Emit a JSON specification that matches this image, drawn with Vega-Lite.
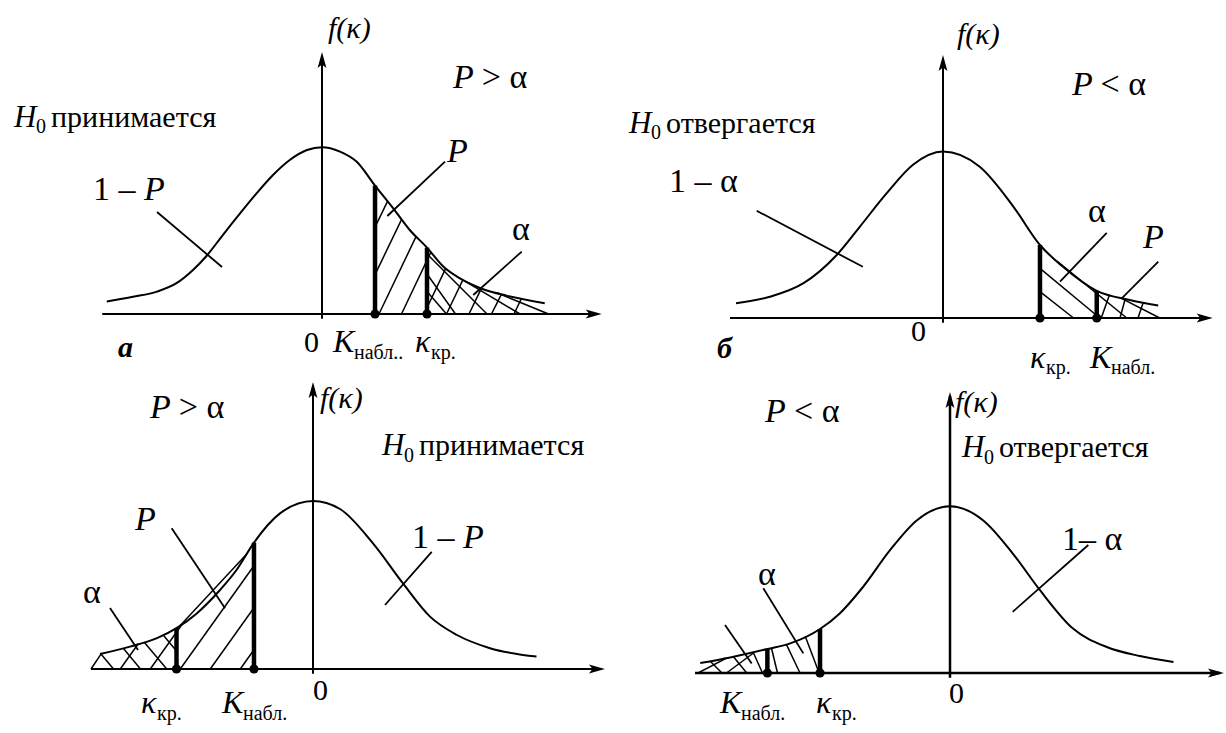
{
"$schema":"https://vega.github.io/schema/vega-lite/v6.json",
"background":"white","padding":0,
"config":{"view":{"stroke":null},"concat":{"spacing":0}},
"data":{"values":[
{"p":"a","kind":"curve","k":-2.87,"f":0.031},{"p":"a","kind":"curve","k":-2.52,"f":0.043},{"p":"a","kind":"curve","k":-2.2,"f":0.056},{"p":"a","kind":"curve","k":-1.94,"f":0.077},{"p":"a","kind":"curve","k":-1.72,"f":0.11},{"p":"a","kind":"curve","k":-1.54,"f":0.145},{"p":"a","kind":"curve","k":-1.32,"f":0.198},{"p":"a","kind":"curve","k":-1.09,"f":0.252},{"p":"a","kind":"curve","k":-0.87,"f":0.302},{"p":"a","kind":"curve","k":-0.65,"f":0.348},{"p":"a","kind":"curve","k":-0.43,"f":0.385},{"p":"a","kind":"curve","k":-0.2,"f":0.41},{"p":"a","kind":"curve","k":0,"f":0.417},{"p":"a","kind":"curve","k":0.24,"f":0.406},{"p":"a","kind":"curve","k":0.46,"f":0.381},{"p":"a","kind":"curve","k":0.707,"f":0.321},{"p":"a","kind":"curve","k":0.95,"f":0.264},{"p":"a","kind":"curve","k":1.17,"f":0.21},{"p":"a","kind":"curve","k":1.4,"f":0.166},{"p":"a","kind":"curve","k":1.62,"f":0.118},{"p":"a","kind":"curve","k":1.84,"f":0.089},{"p":"a","kind":"curve","k":2.15,"f":0.062},{"p":"a","kind":"curve","k":2.46,"f":0.046},{"p":"a","kind":"curve","k":2.97,"f":0.027},
{"p":"a","kind":"axis","k":-2.93,"f":0,"k2":3.68,"f2":0},{"p":"a","kind":"axis","k":0,"f":-0.012,"k2":0,"f2":0.645},
{"p":"a","kind":"ax","k":3.623,"f":0},{"p":"a","kind":"ay","k":0,"f":0.635},
{"p":"a","kind":"thick","k":0.707,"f":0,"k2":0.707,"f2":0.321},{"p":"a","kind":"thick","k":1.4,"f":0,"k2":1.4,"f2":0.166},
{"p":"a","kind":"dot","k":0.707,"f":0},{"p":"a","kind":"dot","k":1.4,"f":0},
{"p":"a","kind":"hatch","k":0.707,"f":0.217,"k2":0.875,"f2":0.282},{"p":"a","kind":"hatch","k":0.707,"f":0.0985,"k2":1.06,"f2":0.236},{"p":"a","kind":"hatch","k":0.76,"f":0,"k2":1.255,"f2":0.194},{"p":"a","kind":"hatch","k":1.06,"f":0,"k2":1.45,"f2":0.154},{"p":"a","kind":"hatch","k":1.36,"f":0,"k2":1.65,"f2":0.114},{"p":"a","kind":"hatch","k":1.66,"f":0,"k2":1.88,"f2":0.086},{"p":"a","kind":"hatch","k":1.96,"f":0,"k2":2.125,"f2":0.064},{"p":"a","kind":"hatch","k":2.26,"f":0,"k2":2.39,"f2":0.0485},{"p":"a","kind":"hatch","k":2.56,"f":0,"k2":2.66,"f2":0.039},
{"p":"a","kind":"hatch","k":1.4,"f":0.056,"k2":1.66,"f2":0},{"p":"a","kind":"hatch","k":1.4,"f":0.1,"k2":1.78,"f2":0},{"p":"a","kind":"hatch","k":1.4,"f":0.15,"k2":2.2,"f2":0},{"p":"a","kind":"hatch","k":1.9,"f":0.083,"k2":2.64,"f2":0},{"p":"a","kind":"hatch","k":2.33,"f":0.053,"k2":3.02,"f2":0},
{"p":"a","kind":"leader","k":-2.2,"f":0.255,"k2":-1.333,"f2":0.1175},{"p":"a","kind":"leader","k":1.64,"f":0.381,"k2":0.871,"f2":0.245},{"p":"a","kind":"leader","k":2.663,"f":0.156,"k2":2.017,"f2":0.0475},
{"p":"a","kind":"text","role":"fk","t":"f(κ)","k":0.08,"f":0.69},
{"p":"a","kind":"text","role":"var","t":"P","k":1.747,"f":0.565},{"p":"a","kind":"text","role":"sym","t":"> α","k":2.13,"f":0.565},
{"p":"a","kind":"text","role":"hvar","t":"H","k":-4.107,"f":0.4675},{"p":"a","kind":"text","role":"hsub","t":"0","k":-3.813,"f":0.452},{"p":"a","kind":"text","role":"hword","t":"принимается","k":-3.613,"f":0.4675},
{"p":"a","kind":"text","role":"sym","t":"1 –","k":-3.053,"f":0.285},{"p":"a","kind":"text","role":"var","t":"P","k":-2.373,"f":0.285},
{"p":"a","kind":"text","role":"var","t":"P","k":1.667,"f":0.38},{"p":"a","kind":"text","role":"sym","t":"α","k":2.533,"f":0.185},
{"p":"a","kind":"text","role":"origin","t":"0","k":-0.24,"f":-0.095},
{"p":"a","kind":"text","role":"axvar","t":"K","k":0.147,"f":-0.095},{"p":"a","kind":"text","role":"axsub","t":"набл..","k":0.427,"f":-0.1125},
{"p":"a","kind":"text","role":"axvar","t":"κ","k":1.24,"f":-0.095},{"p":"a","kind":"text","role":"axsub","t":"кр.","k":1.453,"f":-0.1125},
{"p":"a","kind":"text","role":"tag","t":"а","k":-2.72,"f":-0.1075},

{"p":"b","kind":"curve","k":-2.76,"f":0.037},{"p":"b","kind":"curve","k":-2.31,"f":0.053},{"p":"b","kind":"curve","k":-1.86,"f":0.087},{"p":"b","kind":"curve","k":-1.42,"f":0.157},{"p":"b","kind":"curve","k":-1.11,"f":0.228},{"p":"b","kind":"curve","k":-0.75,"f":0.312},{"p":"b","kind":"curve","k":-0.4,"f":0.383},{"p":"b","kind":"curve","k":0,"f":0.416},{"p":"b","kind":"curve","k":0.49,"f":0.378},{"p":"b","kind":"curve","k":0.94,"f":0.278},{"p":"b","kind":"curve","k":1.293,"f":0.1825},{"p":"b","kind":"curve","k":1.6,"f":0.128},{"p":"b","kind":"curve","k":2.05,"f":0.068},{"p":"b","kind":"curve","k":2.49,"f":0.045},{"p":"b","kind":"curve","k":2.87,"f":0.031},
{"p":"b","kind":"axis","k":-2.84,"f":0,"k2":3.55,"f2":0},{"p":"b","kind":"axis","k":0,"f":-0.012,"k2":0,"f2":0.648},
{"p":"b","kind":"ax","k":3.489,"f":0},{"p":"b","kind":"ay","k":0,"f":0.6375},
{"p":"b","kind":"thick","k":1.293,"f":0,"k2":1.293,"f2":0.1825},{"p":"b","kind":"thick","k":2.05,"f":0,"k2":2.05,"f2":0.068},
{"p":"b","kind":"dot","k":1.293,"f":0},{"p":"b","kind":"dot","k":2.05,"f":0},
{"p":"b","kind":"hatch","k":1.293,"f":0.124,"k2":2.09,"f2":0},{"p":"b","kind":"hatch","k":1.293,"f":0.066,"k2":1.74,"f2":0},{"p":"b","kind":"hatch","k":1.52,"f":0.142,"k2":2.45,"f2":0},{"p":"b","kind":"hatch","k":2.36,"f":0.051,"k2":2.89,"f2":0},
{"p":"b","kind":"hatch","k":2.11,"f":0,"k2":2.22,"f2":0.058},{"p":"b","kind":"hatch","k":2.36,"f":0,"k2":2.43,"f2":0.048},{"p":"b","kind":"hatch","k":2.6,"f":0,"k2":2.67,"f2":0.039},
{"p":"b","kind":"leader","k":-2.484,"f":0.268,"k2":-1.069,"f2":0.128},{"p":"b","kind":"leader","k":2.183,"f":0.213,"k2":1.56,"f2":0.091},{"p":"b","kind":"leader","k":2.871,"f":0.141,"k2":2.383,"f2":0.049},
{"p":"b","kind":"text","role":"fk","t":"f(κ)","k":0.187,"f":0.685},
{"p":"b","kind":"text","role":"var","t":"P","k":1.72,"f":0.5575},{"p":"b","kind":"text","role":"sym","t":"< α","k":2.1,"f":0.5575},
{"p":"b","kind":"text","role":"hvar","t":"H","k":-4.187,"f":0.4625},{"p":"b","kind":"text","role":"hsub","t":"0","k":-3.893,"f":0.447},{"p":"b","kind":"text","role":"hword","t":"отвергается","k":-3.693,"f":0.4625},
{"p":"b","kind":"text","role":"sym","t":"1 – α","k":-3.653,"f":0.315},
{"p":"b","kind":"text","role":"sym","t":"α","k":1.933,"f":0.24},{"p":"b","kind":"text","role":"var","t":"P","k":2.667,"f":0.175},
{"p":"b","kind":"text","role":"origin","t":"0","k":-0.427,"f":-0.0575},
{"p":"b","kind":"text","role":"axvar","t":"κ","k":1.16,"f":-0.125},{"p":"b","kind":"text","role":"axsub","t":"кр.","k":1.373,"f":-0.14},
{"p":"b","kind":"text","role":"axvar","t":"K","k":1.96,"f":-0.125},{"p":"b","kind":"text","role":"axsub","t":"набл.","k":2.24,"f":-0.14},
{"p":"b","kind":"text","role":"tag","t":"б","k":-3.013,"f":-0.1},

{"p":"c","kind":"curve","k":-2.84,"f":0.0375},{"p":"c","kind":"curve","k":-2.44,"f":0.056},{"p":"c","kind":"curve","k":-2.08,"f":0.077},{"p":"c","kind":"curve","k":-1.82,"f":0.102},{"p":"c","kind":"curve","k":-1.55,"f":0.139},{"p":"c","kind":"curve","k":-1.24,"f":0.1975},{"p":"c","kind":"curve","k":-1.02,"f":0.2475},{"p":"c","kind":"curve","k":-0.787,"f":0.316},{"p":"c","kind":"curve","k":-0.44,"f":0.389},{"p":"c","kind":"curve","k":0,"f":0.42},{"p":"c","kind":"curve","k":0.36,"f":0.4},{"p":"c","kind":"curve","k":0.8,"f":0.314},{"p":"c","kind":"curve","k":1.2,"f":0.214},{"p":"c","kind":"curve","k":1.56,"f":0.131},{"p":"c","kind":"curve","k":1.92,"f":0.085},{"p":"c","kind":"curve","k":2.36,"f":0.052},{"p":"c","kind":"curve","k":2.98,"f":0.031},
{"p":"c","kind":"axis","k":-2.96,"f":0,"k2":3.84,"f2":0},{"p":"c","kind":"axis","k":0,"f":-0.012,"k2":0,"f2":0.7075},
{"p":"c","kind":"ax","k":3.786,"f":0},{"p":"c","kind":"ay","k":0,"f":0.6975},
{"p":"c","kind":"thick","k":-0.787,"f":0,"k2":-0.787,"f2":0.316},{"p":"c","kind":"thick","k":-1.82,"f":0,"k2":-1.82,"f2":0.102},
{"p":"c","kind":"dot","k":-0.787,"f":0},{"p":"c","kind":"dot","k":-1.82,"f":0},
{"p":"c","kind":"hatch","k":-0.97,"f":0,"k2":-0.787,"f2":0.048},{"p":"c","kind":"hatch","k":-1.37,"f":0,"k2":-0.787,"f2":0.153},{"p":"c","kind":"hatch","k":-1.77,"f":0,"k2":-0.787,"f2":0.258},{"p":"c","kind":"hatch","k":-1.77,"f":0.109,"k2":-0.88,"f2":0.288},{"p":"c","kind":"hatch","k":-2.17,"f":0,"k2":-1.74,"f2":0.113},{"p":"c","kind":"hatch","k":-2.57,"f":0,"k2":-2.33,"f2":0.063},{"p":"c","kind":"hatch","k":-2.96,"f":0,"k2":-2.82,"f2":0.039},
{"p":"c","kind":"hatch","k":-2.83,"f":0.038,"k2":-2.66,"f2":0},{"p":"c","kind":"hatch","k":-2.53,"f":0.052,"k2":-2.3,"f2":0},{"p":"c","kind":"hatch","k":-2.25,"f":0.067,"k2":-1.95,"f2":0},{"p":"c","kind":"hatch","k":-1.99,"f":0.083,"k2":-1.82,"f2":0.045},
{"p":"c","kind":"leader","k":-2.707,"f":0.1525,"k2":-2.333,"f2":0.0475},{"p":"c","kind":"leader","k":-1.884,"f":0.352,"k2":-1.173,"f2":0.152},{"p":"c","kind":"leader","k":1.583,"f":0.293,"k2":0.96,"f2":0.16},
{"p":"c","kind":"text","role":"var","t":"P","k":-2.173,"f":0.6275},{"p":"c","kind":"text","role":"sym","t":"> α","k":-1.79,"f":0.6275},
{"p":"c","kind":"text","role":"fk","t":"f(κ)","k":0.093,"f":0.6525},
{"p":"c","kind":"text","role":"hvar","t":"H","k":0.92,"f":0.535},{"p":"c","kind":"text","role":"hsub","t":"0","k":1.213,"f":0.5175},{"p":"c","kind":"text","role":"hword","t":"принимается","k":1.413,"f":0.535},
{"p":"c","kind":"text","role":"var","t":"P","k":-2.373,"f":0.3475},{"p":"c","kind":"text","role":"sym","t":"α","k":-3.067,"f":0.165},
{"p":"c","kind":"text","role":"sym","t":"1 –","k":1.32,"f":0.3025},{"p":"c","kind":"text","role":"var","t":"P","k":2.0,"f":0.3025},
{"p":"c","kind":"text","role":"axvar","t":"κ","k":-2.293,"f":-0.11},{"p":"c","kind":"text","role":"axsub","t":"кр.","k":-2.08,"f":-0.1275},
{"p":"c","kind":"text","role":"axvar","t":"K","k":-1.213,"f":-0.11},{"p":"c","kind":"text","role":"axsub","t":"набл.","k":-0.933,"f":-0.1275},
{"p":"c","kind":"text","role":"origin","t":"0","k":0,"f":-0.0775},

{"p":"d","kind":"curve","k":-3.33,"f":0.025},{"p":"d","kind":"curve","k":-2.93,"f":0.039},{"p":"d","kind":"curve","k":-2.435,"f":0.06},{"p":"d","kind":"curve","k":-2.13,"f":0.074},{"p":"d","kind":"curve","k":-1.733,"f":0.11},{"p":"d","kind":"curve","k":-1.47,"f":0.149},{"p":"d","kind":"curve","k":-1.16,"f":0.215},{"p":"d","kind":"curve","k":-0.8,"f":0.307},{"p":"d","kind":"curve","k":-0.44,"f":0.382},{"p":"d","kind":"curve","k":0,"f":0.417},{"p":"d","kind":"curve","k":0.44,"f":0.382},{"p":"d","kind":"curve","k":0.84,"f":0.298},{"p":"d","kind":"curve","k":1.2,"f":0.207},{"p":"d","kind":"curve","k":1.64,"f":0.111},{"p":"d","kind":"curve","k":2.09,"f":0.065},{"p":"d","kind":"curve","k":2.53,"f":0.0425},{"p":"d","kind":"curve","k":2.98,"f":0.0275},
{"p":"d","kind":"axis","k":-3.4,"f":0,"k2":3.6,"f2":0},{"p":"d","kind":"axis","k":0,"f":-0.012,"k2":0,"f2":0.6925},
{"p":"d","kind":"ax","k":3.546,"f":0},{"p":"d","kind":"ay","k":0,"f":0.6825},
{"p":"d","kind":"thick","k":-1.733,"f":0,"k2":-1.733,"f2":0.11},{"p":"d","kind":"thick","k":-2.435,"f":0,"k2":-2.435,"f2":0.06},
{"p":"d","kind":"dot","k":-1.733,"f":0},{"p":"d","kind":"dot","k":-2.435,"f":0},
{"p":"d","kind":"hatch","k":-1.93,"f":0.092,"k2":-1.745,"f2":0},{"p":"d","kind":"hatch","k":-2.18,"f":0.071,"k2":-2.0,"f2":0},{"p":"d","kind":"hatch","k":-2.38,"f":0.062,"k2":-2.3,"f2":0},
{"p":"d","kind":"hatch","k":-3.36,"f":0,"k2":-2.98,"f2":0.037},{"p":"d","kind":"hatch","k":-2.98,"f":0,"k2":-2.62,"f2":0.05},{"p":"d","kind":"hatch","k":-3.2,"f":0.03,"k2":-3.04,"f2":0},{"p":"d","kind":"hatch","k":-2.89,"f":0.041,"k2":-2.71,"f2":0},{"p":"d","kind":"hatch","k":-2.62,"f":0.05,"k2":-2.5,"f2":0},
{"p":"d","kind":"leader","k":-2.489,"f":0.212,"k2":-1.956,"f2":0.049},{"p":"d","kind":"leader","k":-3.0,"f":0.12,"k2":-2.644,"f2":0.024},{"p":"d","kind":"leader","k":1.844,"f":0.32,"k2":0.836,"f2":0.153},
{"p":"d","kind":"text","role":"var","t":"P","k":-2.467,"f":0.6275},{"p":"d","kind":"text","role":"sym","t":"< α","k":-2.08,"f":0.6275},
{"p":"d","kind":"text","role":"fk","t":"f(κ)","k":0.067,"f":0.6525},
{"p":"d","kind":"text","role":"hvar","t":"H","k":0.16,"f":0.54},{"p":"d","kind":"text","role":"hsub","t":"0","k":0.453,"f":0.5225},{"p":"d","kind":"text","role":"hword","t":"отвергается","k":0.653,"f":0.54},
{"p":"d","kind":"text","role":"sym","t":"α","k":-2.56,"f":0.22},
{"p":"d","kind":"text","role":"sym","t":"1– α","k":1.493,"f":0.3075},
{"p":"d","kind":"text","role":"axvar","t":"K","k":-3.067,"f":-0.1},{"p":"d","kind":"text","role":"axsub","t":"набл.","k":-2.787,"f":-0.1175},
{"p":"d","kind":"text","role":"axvar","t":"κ","k":-1.787,"f":-0.1},{"p":"d","kind":"text","role":"axsub","t":"кр.","k":-1.573,"f":-0.1175},
{"p":"d","kind":"text","role":"origin","t":"0","k":-0.013,"f":-0.075}
]},
"columns":2,"spacing":0,"bounds":"flush",
"resolve":{"scale":{"x":"independent","y":"independent"}},
"concat":[
{"width":613,"height":366,"transform":[{"filter":"datum.p=='a'"}],
"encoding":{"x":{"field":"k","type":"quantitative","scale":{"domain":[-4.2933,3.88],"nice":false,"zero":false},"axis":null},"y":{"field":"f","type":"quantitative","scale":{"domain":[-0.13,0.785],"nice":false,"zero":false},"axis":null}},
"layer":[
{"transform":[{"filter":"datum.kind=='curve'"}],"mark":{"type":"line","color":"black","strokeWidth":2,"interpolate":"monotone"}},
{"transform":[{"filter":"datum.kind=='axis'"}],"mark":{"type":"rule","color":"black","strokeWidth":2},"encoding":{"x2":{"field":"k2"},"y2":{"field":"f2"}}},
{"transform":[{"filter":"datum.kind=='thick'"}],"mark":{"type":"rule","color":"black","strokeWidth":4.5},"encoding":{"x2":{"field":"k2"},"y2":{"field":"f2"}}},
{"transform":[{"filter":"datum.kind=='hatch'"}],"mark":{"type":"rule","color":"black","strokeWidth":1.5},"encoding":{"x2":{"field":"k2"},"y2":{"field":"f2"}}},
{"transform":[{"filter":"datum.kind=='leader'"}],"mark":{"type":"rule","color":"black","strokeWidth":1.8},"encoding":{"x2":{"field":"k2"},"y2":{"field":"f2"}}},
{"transform":[{"filter":"datum.kind=='dot'"}],"mark":{"type":"point","shape":"circle","filled":true,"color":"black","opacity":1,"size":85}},
{"transform":[{"filter":"datum.kind=='ax'"}],"mark":{"type":"point","shape":"M1,0L-1,-0.55L-0.55,0L-1,0.55Z","filled":true,"color":"black","opacity":1,"size":256}},
{"transform":[{"filter":"datum.kind=='ay'"}],"mark":{"type":"point","shape":"M0,-1L0.55,1L0,0.55L-0.55,1Z","filled":true,"color":"black","opacity":1,"size":256}},
{"transform":[{"filter":"datum.kind=='text' && (datum.role=='var'||datum.role=='fk'||datum.role=='hvar'||datum.role=='axvar')"}],"mark":{"type":"text","font":"Liberation Serif","fontStyle":"italic","align":"left","baseline":"alphabetic","color":"black"},"encoding":{"text":{"field":"t"},"size":{"field":"role","type":"nominal","legend":null,"scale":{"type":"ordinal","domain":["var","sym","fk","hvar","hsub","hword","axvar","origin","axsub","tag"],"range":[34,34,30,31,20,30,32,30,20,30]}}}},
{"transform":[{"filter":"datum.kind=='text' && (datum.role=='sym'||datum.role=='hsub'||datum.role=='hword'||datum.role=='origin'||datum.role=='axsub')"}],"mark":{"type":"text","font":"Liberation Serif","align":"left","baseline":"alphabetic","color":"black"},"encoding":{"text":{"field":"t"},"size":{"field":"role","type":"nominal","legend":null,"scale":{"type":"ordinal","domain":["var","sym","fk","hvar","hsub","hword","axvar","origin","axsub","tag"],"range":[34,34,30,31,20,30,32,30,20,30]}}}},
{"transform":[{"filter":"datum.kind=='text' && datum.role=='tag'"}],"mark":{"type":"text","font":"Liberation Serif","fontStyle":"italic","fontWeight":"bold","align":"left","baseline":"alphabetic","color":"black"},"encoding":{"text":{"field":"t"},"size":{"field":"role","type":"nominal","legend":null,"scale":{"type":"ordinal","domain":["var","sym","fk","hvar","hsub","hword","axvar","origin","axsub","tag"],"range":[34,34,30,31,20,30,32,30,20,30]}}}}
]},
{"width":613,"height":366,"transform":[{"filter":"datum.p=='b'"}],
"encoding":{"x":{"field":"k","type":"quantitative","scale":{"domain":[-4.4,3.7733],"nice":false,"zero":false},"axis":null},"y":{"field":"f","type":"quantitative","scale":{"domain":[-0.12,0.795],"nice":false,"zero":false},"axis":null}},
"layer":[
{"transform":[{"filter":"datum.kind=='curve'"}],"mark":{"type":"line","color":"black","strokeWidth":2,"interpolate":"monotone"}},
{"transform":[{"filter":"datum.kind=='axis'"}],"mark":{"type":"rule","color":"black","strokeWidth":2},"encoding":{"x2":{"field":"k2"},"y2":{"field":"f2"}}},
{"transform":[{"filter":"datum.kind=='thick'"}],"mark":{"type":"rule","color":"black","strokeWidth":4.5},"encoding":{"x2":{"field":"k2"},"y2":{"field":"f2"}}},
{"transform":[{"filter":"datum.kind=='hatch'"}],"mark":{"type":"rule","color":"black","strokeWidth":1.5},"encoding":{"x2":{"field":"k2"},"y2":{"field":"f2"}}},
{"transform":[{"filter":"datum.kind=='leader'"}],"mark":{"type":"rule","color":"black","strokeWidth":1.8},"encoding":{"x2":{"field":"k2"},"y2":{"field":"f2"}}},
{"transform":[{"filter":"datum.kind=='dot'"}],"mark":{"type":"point","shape":"circle","filled":true,"color":"black","opacity":1,"size":85}},
{"transform":[{"filter":"datum.kind=='ax'"}],"mark":{"type":"point","shape":"M1,0L-1,-0.55L-0.55,0L-1,0.55Z","filled":true,"color":"black","opacity":1,"size":256}},
{"transform":[{"filter":"datum.kind=='ay'"}],"mark":{"type":"point","shape":"M0,-1L0.55,1L0,0.55L-0.55,1Z","filled":true,"color":"black","opacity":1,"size":256}},
{"transform":[{"filter":"datum.kind=='text' && (datum.role=='var'||datum.role=='fk'||datum.role=='hvar'||datum.role=='axvar')"}],"mark":{"type":"text","font":"Liberation Serif","fontStyle":"italic","align":"left","baseline":"alphabetic","color":"black"},"encoding":{"text":{"field":"t"},"size":{"field":"role","type":"nominal","legend":null,"scale":{"type":"ordinal","domain":["var","sym","fk","hvar","hsub","hword","axvar","origin","axsub","tag"],"range":[34,34,30,31,20,30,32,30,20,30]}}}},
{"transform":[{"filter":"datum.kind=='text' && (datum.role=='sym'||datum.role=='hsub'||datum.role=='hword'||datum.role=='origin'||datum.role=='axsub')"}],"mark":{"type":"text","font":"Liberation Serif","align":"left","baseline":"alphabetic","color":"black"},"encoding":{"text":{"field":"t"},"size":{"field":"role","type":"nominal","legend":null,"scale":{"type":"ordinal","domain":["var","sym","fk","hvar","hsub","hword","axvar","origin","axsub","tag"],"range":[34,34,30,31,20,30,32,30,20,30]}}}},
{"transform":[{"filter":"datum.kind=='text' && datum.role=='tag'"}],"mark":{"type":"text","font":"Liberation Serif","fontStyle":"italic","fontWeight":"bold","align":"left","baseline":"alphabetic","color":"black"},"encoding":{"text":{"field":"t"},"size":{"field":"role","type":"nominal","legend":null,"scale":{"type":"ordinal","domain":["var","sym","fk","hvar","hsub","hword","axvar","origin","axsub","tag"],"range":[34,34,30,31,20,30,32,30,20,30]}}}}
]},
{"width":613,"height":367,"transform":[{"filter":"datum.p=='c'"}],
"encoding":{"x":{"field":"k","type":"quantitative","scale":{"domain":[-4.1733,4.0],"nice":false,"zero":false},"axis":null},"y":{"field":"f","type":"quantitative","scale":{"domain":[-0.16,0.7575],"nice":false,"zero":false},"axis":null}},
"layer":[
{"transform":[{"filter":"datum.kind=='curve'"}],"mark":{"type":"line","color":"black","strokeWidth":2,"interpolate":"monotone"}},
{"transform":[{"filter":"datum.kind=='axis'"}],"mark":{"type":"rule","color":"black","strokeWidth":2},"encoding":{"x2":{"field":"k2"},"y2":{"field":"f2"}}},
{"transform":[{"filter":"datum.kind=='thick'"}],"mark":{"type":"rule","color":"black","strokeWidth":4.5},"encoding":{"x2":{"field":"k2"},"y2":{"field":"f2"}}},
{"transform":[{"filter":"datum.kind=='hatch'"}],"mark":{"type":"rule","color":"black","strokeWidth":1.5},"encoding":{"x2":{"field":"k2"},"y2":{"field":"f2"}}},
{"transform":[{"filter":"datum.kind=='leader'"}],"mark":{"type":"rule","color":"black","strokeWidth":1.8},"encoding":{"x2":{"field":"k2"},"y2":{"field":"f2"}}},
{"transform":[{"filter":"datum.kind=='dot'"}],"mark":{"type":"point","shape":"circle","filled":true,"color":"black","opacity":1,"size":85}},
{"transform":[{"filter":"datum.kind=='ax'"}],"mark":{"type":"point","shape":"M1,0L-1,-0.55L-0.55,0L-1,0.55Z","filled":true,"color":"black","opacity":1,"size":256}},
{"transform":[{"filter":"datum.kind=='ay'"}],"mark":{"type":"point","shape":"M0,-1L0.55,1L0,0.55L-0.55,1Z","filled":true,"color":"black","opacity":1,"size":256}},
{"transform":[{"filter":"datum.kind=='text' && (datum.role=='var'||datum.role=='fk'||datum.role=='hvar'||datum.role=='axvar')"}],"mark":{"type":"text","font":"Liberation Serif","fontStyle":"italic","align":"left","baseline":"alphabetic","color":"black"},"encoding":{"text":{"field":"t"},"size":{"field":"role","type":"nominal","legend":null,"scale":{"type":"ordinal","domain":["var","sym","fk","hvar","hsub","hword","axvar","origin","axsub","tag"],"range":[34,34,30,31,20,30,32,30,20,30]}}}},
{"transform":[{"filter":"datum.kind=='text' && (datum.role=='sym'||datum.role=='hsub'||datum.role=='hword'||datum.role=='origin'||datum.role=='axsub')"}],"mark":{"type":"text","font":"Liberation Serif","align":"left","baseline":"alphabetic","color":"black"},"encoding":{"text":{"field":"t"},"size":{"field":"role","type":"nominal","legend":null,"scale":{"type":"ordinal","domain":["var","sym","fk","hvar","hsub","hword","axvar","origin","axsub","tag"],"range":[34,34,30,31,20,30,32,30,20,30]}}}}
]},
{"width":613,"height":367,"transform":[{"filter":"datum.p=='d'"}],
"encoding":{"x":{"field":"k","type":"quantitative","scale":{"domain":[-4.4933,3.68],"nice":false,"zero":false},"axis":null},"y":{"field":"f","type":"quantitative","scale":{"domain":[-0.15,0.7675],"nice":false,"zero":false},"axis":null}},
"layer":[
{"transform":[{"filter":"datum.kind=='curve'"}],"mark":{"type":"line","color":"black","strokeWidth":2,"interpolate":"monotone"}},
{"transform":[{"filter":"datum.kind=='axis'"}],"mark":{"type":"rule","color":"black","strokeWidth":2.5},"encoding":{"x2":{"field":"k2"},"y2":{"field":"f2"}}},
{"transform":[{"filter":"datum.kind=='thick'"}],"mark":{"type":"rule","color":"black","strokeWidth":4.5},"encoding":{"x2":{"field":"k2"},"y2":{"field":"f2"}}},
{"transform":[{"filter":"datum.kind=='hatch'"}],"mark":{"type":"rule","color":"black","strokeWidth":1.5},"encoding":{"x2":{"field":"k2"},"y2":{"field":"f2"}}},
{"transform":[{"filter":"datum.kind=='leader'"}],"mark":{"type":"rule","color":"black","strokeWidth":1.8},"encoding":{"x2":{"field":"k2"},"y2":{"field":"f2"}}},
{"transform":[{"filter":"datum.kind=='dot'"}],"mark":{"type":"point","shape":"circle","filled":true,"color":"black","opacity":1,"size":85}},
{"transform":[{"filter":"datum.kind=='ax'"}],"mark":{"type":"point","shape":"M1,0L-1,-0.55L-0.55,0L-1,0.55Z","filled":true,"color":"black","opacity":1,"size":256}},
{"transform":[{"filter":"datum.kind=='ay'"}],"mark":{"type":"point","shape":"M0,-1L0.55,1L0,0.55L-0.55,1Z","filled":true,"color":"black","opacity":1,"size":256}},
{"transform":[{"filter":"datum.kind=='text' && (datum.role=='var'||datum.role=='fk'||datum.role=='hvar'||datum.role=='axvar')"}],"mark":{"type":"text","font":"Liberation Serif","fontStyle":"italic","align":"left","baseline":"alphabetic","color":"black"},"encoding":{"text":{"field":"t"},"size":{"field":"role","type":"nominal","legend":null,"scale":{"type":"ordinal","domain":["var","sym","fk","hvar","hsub","hword","axvar","origin","axsub","tag"],"range":[34,34,30,31,20,30,32,30,20,30]}}}},
{"transform":[{"filter":"datum.kind=='text' && (datum.role=='sym'||datum.role=='hsub'||datum.role=='hword'||datum.role=='origin'||datum.role=='axsub')"}],"mark":{"type":"text","font":"Liberation Serif","align":"left","baseline":"alphabetic","color":"black"},"encoding":{"text":{"field":"t"},"size":{"field":"role","type":"nominal","legend":null,"scale":{"type":"ordinal","domain":["var","sym","fk","hvar","hsub","hword","axvar","origin","axsub","tag"],"range":[34,34,30,31,20,30,32,30,20,30]}}}}
]}
]
}
